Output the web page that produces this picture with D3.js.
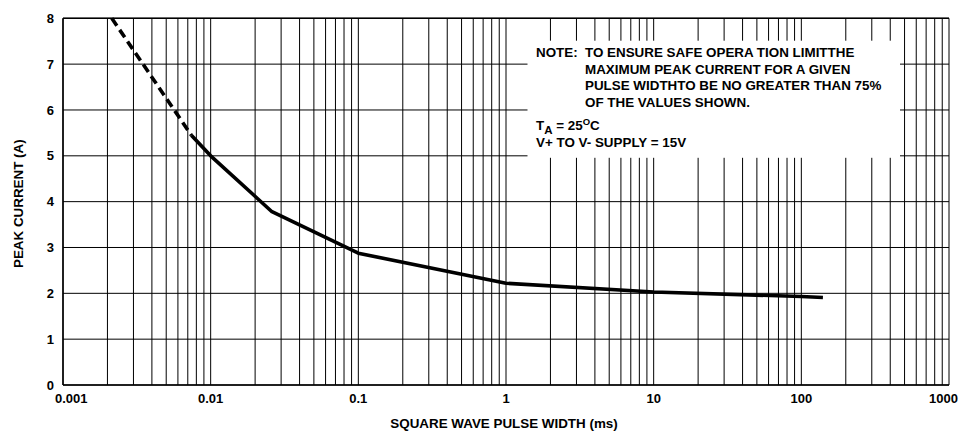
<!DOCTYPE html>
<html>
<head>
<meta charset="utf-8">
<script src="https://cdn.jsdelivr.net/npm/d3@7"></script>
<style>
  html, body { margin: 0; padding: 0; background: #fff; }
  svg { display: block; }
  text { font-family: "Liberation Sans", Arial, Helvetica, sans-serif; font-weight: bold; fill: #000; }
</style>
</head>
<body>
<svg id="chart" width="961" height="431"></svg>
<script>
// ---- data ----
const xTickValues = [0.001, 0.01, 0.1, 1, 10, 100, 1000];
const xTickLabels = ["0.001", "0.01", "0.1", "1", "10", "100", "1000"];
const yTickValues = [0, 1, 2, 3, 4, 5, 6, 7, 8];
const yTickLabels = ["0", "1", "2", "3", "4", "5", "6", "7", "8"];
const dashedWidth = [0.00214, 0.0074];
const dashedCurrent = [8, 5.45];
const solidWidth = [0.0074, 0.01, 0.026, 0.1, 1, 10, 100, 140];
const solidCurrent = [5.45, 5.0, 3.78, 2.875, 2.22, 2.03, 1.93, 1.91];
const xTitle = "SQUARE WAVE PULSE WIDTH (ms)";
const yTitle = "PEAK CURRENT (A)";
const noteLines = [
  "TO ENSURE SAFE OPERA TION LIMITTHE",
  "MAXIMUM PEAK CURRENT FOR A GIVEN",
  "PULSE WIDTHTO BE NO GREATER THAN 75%",
  "OF THE VALUES SHOWN."
];

// ---- layout ----
const W = 961, H = 431;
const m = { left: 63, top: 18.3, right: 12, bottom: 46 };
const svg = d3.select("#chart");

const x = d3.scaleLog().domain([0.001, 1000]).range([m.left, W - m.right]);
const y = d3.scaleLinear().domain([0, 8]).range([H - m.bottom, m.top]);

// minor/major vertical grid values
const gridX = [];
for (let e = -3; e < 3; e++) {
  for (let k = 1; k <= 9; k++) gridX.push(k * Math.pow(10, e));
}
gridX.push(1000);

const grid = svg.append("g");
grid.selectAll("line.v").data(gridX).join("line")
  .attr("class", "v")
  .attr("x1", d => x(d)).attr("x2", d => x(d))
  .attr("y1", y(8)).attr("y2", y(0))
  .attr("stroke", "#000").attr("stroke-width", 1);
grid.selectAll("line.h").data(yTickValues).join("line")
  .attr("class", "h")
  .attr("x1", x(0.001)).attr("x2", x(1000))
  .attr("y1", d => y(d)).attr("y2", d => y(d))
  .attr("stroke", "#000").attr("stroke-width", 1);

// frame
svg.append("line").attr("x1", x(0.001)).attr("x2", x(0.001)).attr("y1", y(8)).attr("y2", y(0))
  .attr("stroke", "#000").attr("stroke-width", 1.5);
svg.append("line").attr("x1", x(0.001)).attr("x2", x(1000)).attr("y1", y(0)).attr("y2", y(0))
  .attr("stroke", "#000").attr("stroke-width", 1.5);
svg.append("line").attr("x1", x(0.001)).attr("x2", x(1000)).attr("y1", y(8)).attr("y2", y(8))
  .attr("stroke", "#000").attr("stroke-width", 1.5);

// note box (white background covering grid)
const box = { x0: 527.5, y0: 40.7, x1: 900, y1: 157.8 };
svg.append("rect").attr("x", box.x0).attr("y", box.y0)
  .attr("width", box.x1 - box.x0).attr("height", box.y1 - box.y0)
  .attr("fill", "#fff");

const note = svg.append("g").style("font-size", "13.4px");
note.append("text").attr("x", 536).attr("y", 57).text("NOTE:");
note.selectAll("text.nl").data(noteLines).join("text")
  .attr("class", "nl")
  .attr("x", 585).attr("y", (d, i) => 57 + i * 16.6)
  .text(d => d);
const ta = note.append("text").attr("x", 536).attr("y", 130);
ta.append("tspan").text("T");
ta.append("tspan").attr("dy", 3.5).style("font-size", "11.5px").text("A");
ta.append("tspan").attr("dy", -3.5).text(" = 25");
ta.append("tspan").attr("dy", -5).style("font-size", "9.5px").text("O");
ta.append("tspan").attr("dy", 5).text("C");
note.append("text").attr("x", 536).attr("y", 147).text("V+ TO V- SUPPLY = 15V");

// curves
const line = d3.line().x(d => x(d[0])).y(d => y(d[1]));
svg.append("path")
  .datum(dashedWidth.map((w, i) => [w, dashedCurrent[i]]))
  .attr("d", line).attr("fill", "none").attr("stroke", "#000")
  .attr("stroke-width", 3.6).attr("stroke-dasharray", "9,5");
svg.append("path")
  .datum(solidWidth.map((w, i) => [w, solidCurrent[i]]))
  .attr("d", line).attr("fill", "none").attr("stroke", "#000")
  .attr("stroke-width", 3.6).attr("stroke-linejoin", "round");

// tick labels
const tl = svg.append("g").style("font-size", "13px");
tl.selectAll("text.xt").data(xTickValues).join("text")
  .attr("class", "xt")
  .attr("x", (d, i) => i === 0 ? x(d) - 8 : (i === xTickValues.length - 1 ? x(d) + 9 : x(d)))
  .attr("y", y(0) + 18)
  .attr("text-anchor", (d, i) => i === 0 ? "start" : (i === xTickValues.length - 1 ? "end" : "middle"))
  .text((d, i) => xTickLabels[i]);
tl.selectAll("text.yt").data(yTickValues).join("text")
  .attr("class", "yt")
  .attr("x", x(0.001) - 9)
  .attr("y", d => y(d))
  .attr("dy", "0.36em")
  .attr("text-anchor", "end")
  .text((d, i) => yTickLabels[i]);

// axis titles
svg.append("text")
  .attr("x", (x(0.001) + x(1000)) / 2 - 2)
  .attr("y", 428)
  .attr("text-anchor", "middle")
  .style("font-size", "13.4px")
  .text(xTitle);
svg.append("text")
  .attr("transform", `translate(23, ${(y(0) + y(8)) / 2 + 2}) rotate(-90)`)
  .attr("text-anchor", "middle")
  .style("font-size", "13.4px")
  .text(yTitle);
</script>
</body>
</html>
